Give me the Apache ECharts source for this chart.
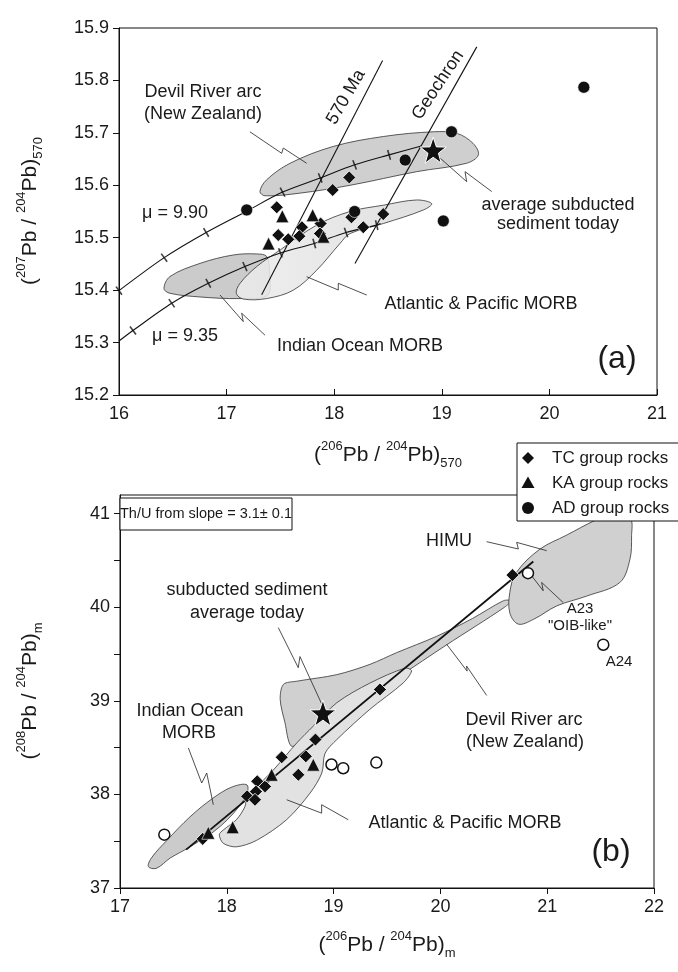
<!DOCTYPE html>
<html><head><meta charset="utf-8">
<script src="https://cdn.jsdelivr.net/npm/echarts@6/dist/echarts.min.js"></script>
<style>html,body{margin:0;padding:0;background:#fff}#c{width:678px;height:972px}</style>
</head><body><div id="c"></div>
<script>
// ---------- DATA (panel a) ----------
const xTicksA = [16, 17, 18, 19, 20, 21];
const yTicksA = [15.2, 15.3, 15.4, 15.5, 15.6, 15.7, 15.8, 15.9];
const tcA = [[17.466,15.558],[18.14,15.615],[17.986,15.591],[17.874,15.527],[18.16,15.539],[18.456,15.545],[18.27,15.52],[17.70,15.52],[17.48,15.505],[17.676,15.503],[17.573,15.497],[17.868,15.508]];
const kaA = [[17.518,15.541],[17.80,15.543],[17.39,15.489],[17.90,15.502]];
const adA = [[17.187,15.553],[18.19,15.55],[18.66,15.648],[19.09,15.702],[19.014,15.532],[20.32,15.787]];
const sedA = [[18.92,15.667]];
const curve990 = [[16.0,15.399],[16.42,15.462],[16.81,15.510],[17.19,15.551],[17.52,15.587],[17.87,15.614],[18.19,15.639],[18.51,15.658],[18.81,15.675]];
const curve935 = [[16.0,15.303],[16.13,15.323],[16.49,15.375],[16.83,15.413],[17.17,15.445],[17.50,15.471],[17.815,15.489],[18.11,15.51],[18.395,15.524],[18.43,15.527]];
const ticks990 = [[16.0,15.399],[16.42,15.462],[16.81,15.510],[17.52,15.587],[17.87,15.614],[18.19,15.639],[18.51,15.658]];
const ticks935 = [[16.13,15.323],[16.49,15.375],[16.83,15.413],[17.17,15.445],[17.50,15.471],[17.815,15.489],[18.11,15.51],[18.395,15.524]];
const line570 = [[17.326,15.391],[18.45,15.838]];
const geochron = [[18.193,15.451],[19.325,15.864]];
const devilA = [[17.31,15.588],[17.37,15.610],[17.59,15.642],[17.99,15.674],[18.456,15.693],[18.92,15.702],[19.14,15.699],[19.29,15.68],[19.34,15.658],[19.23,15.642],[18.767,15.626],[18.147,15.600],[17.68,15.585],[17.357,15.580]];
const indianA = [[16.418,15.403],[16.474,15.426],[16.753,15.451],[17.06,15.467],[17.28,15.469],[17.373,15.464],[17.40,15.43],[17.38,15.39],[17.125,15.384],[16.753,15.387],[16.474,15.394]];
const atlanticA = [[17.09,15.394],[17.125,15.413],[17.28,15.445],[17.50,15.477],[17.837,15.524],[18.147,15.55],[18.456,15.562],[18.767,15.572],[18.906,15.565],[18.83,15.553],[18.456,15.527],[18.147,15.508],[18.054,15.489],[17.837,15.438],[17.62,15.40],[17.373,15.384],[17.155,15.383]];
const pointersA = [
  [[17.217,15.702],[17.512,15.661],[17.527,15.671],[17.744,15.642]],
  [[18.967,15.655],[19.231,15.607],[19.216,15.626],[19.464,15.588]],
  [[17.744,15.4256],[18.038,15.4003],[18.038,15.413],[18.302,15.3907]],
  [[16.939,15.3907],[17.155,15.34],[17.14,15.356],[17.357,15.314]]
];
// ---------- DATA (panel b) ----------
const xTicksB = [17, 18, 19, 20, 21, 22];
const yTicksB = [37, 38, 39, 40, 41];
const yMinorB = [37, 37.5, 38, 38.5, 39, 39.5, 40, 40.5, 41];
const tcB = [[19.434,39.122],[18.83,38.586],[18.514,38.397],[18.74,38.407],[18.67,38.21],[18.285,38.14],[18.358,38.086],[18.273,38.03],[18.19,37.98],[18.264,37.943],[17.774,37.525],[20.675,40.344]];
const kaB = [[18.81,38.318],[18.42,38.21],[18.055,37.65],[17.827,37.59]];
const adB = [[17.415,37.57],[18.98,38.32],[19.09,38.28],[19.40,38.34],[20.82,40.365],[21.525,39.60]];
const sedB = [[18.90,38.87]];
const regression = [[17.62,37.41],[20.87,40.49]];
const indianB = [[17.265,37.23],[17.30,37.33],[17.44,37.51],[17.655,37.76],[17.87,37.96],[18.05,38.08],[18.19,38.10],[18.17,37.96],[17.94,37.66],[17.655,37.44],[17.47,37.32],[17.34,37.21]];
const atlanticB = [[17.93,37.57],[17.967,37.478],[18.09,37.44],[18.28,37.51],[18.56,37.73],[18.78,38.015],[18.89,38.23],[18.92,38.44],[19.03,38.586],[19.34,38.91],[19.65,39.19],[19.73,39.32],[19.67,39.35],[19.34,39.19],[19.03,38.98],[18.81,38.73],[18.655,38.55],[18.435,38.26],[18.25,38.05],[18.19,37.98],[18.17,37.87],[18.09,37.73],[17.967,37.62]];
const devilB = [[18.53,39.176],[18.655,39.21],[19.03,39.28],[19.34,39.39],[19.59,39.515],[19.965,39.69],[20.3,39.88],[20.59,40.07],[20.66,40.07],[20.6,40.0],[20.06,39.6],[19.6,39.25],[19.2,38.95],[18.9,38.7],[18.7,38.55],[18.6,38.52],[18.545,38.765],[18.50,39.015]];
const himuB = [[20.65,40.16],[20.71,40.37],[20.93,40.62],[21.18,40.77],[21.45,40.93],[21.65,41.02],[21.78,40.95],[21.79,40.765],[21.775,40.515],[21.68,40.265],[21.37,40.12],[21.09,40.015],[20.87,39.87],[20.73,39.82],[20.65,39.94]];
const pointersB = [
  [[20.433,40.701],[20.73,40.623],[20.714,40.694],[20.995,40.605]],
  [[20.854,40.337],[20.963,40.176],[20.948,40.266],[21.15,40.05]],
  [[18.482,39.783],[18.669,39.355],[18.685,39.473],[18.898,38.943]],
  [[17.64,38.497],[17.765,38.122],[17.812,38.229],[17.874,37.89]],
  [[18.561,37.943],[18.888,37.80],[18.888,37.89],[19.138,37.729]],
  [[20.059,39.604],[20.25,39.318],[20.245,39.372],[20.433,39.058]]
];

// ---------- LAYOUT ----------
const FONT = '"Liberation Sans", Arial, Helvetica, sans-serif';
const TXT = '#1a1a1a';
const gridA = {left:119, top:28, width:538, height:367};
const gridB = {left:120, top:495, width:534, height:393};
const extA = {x:[16,21], y:[15.2,15.9]};
const extB = {x:[17,22], y:[37,41.2]};

function starPath(){
  let s='path://';
  for(let i=0;i<10;i++){const r=i%2?20:50;const a=-Math.PI/2+i*Math.PI/5;
    s+=(i?'L':'M')+(50+r*Math.cos(a)).toFixed(2)+' '+(50+r*Math.sin(a)).toFixed(2)+' ';}
  return s+'Z';
}
const STAR = starPath();

function poly(idx, pts, fill, smooth){
  return {type:'custom', xAxisIndex:idx, yAxisIndex:idx, data:pts, silent:true, z:1,
    encode:{x:0,y:1},
    renderItem:function(params, api){
      if(params.dataIndex!==0) return null;
      const p = pts.map(d=>api.coord(d));
      return {type:'polygon', shape:{points:p, smooth:smooth}, style:{fill:fill, stroke:'#333', lineWidth:0.8}};
    }};
}
function line(idx, pts, w, smooth){
  return {type:'line', xAxisIndex:idx, yAxisIndex:idx, data:pts, symbol:'none', smooth:smooth||false,
    silent:true, z:2, lineStyle:{color:'#111', width:w}};
}
function slopeAt(curve, x){
  for(let i=0;i<curve.length-1;i++){
    if(x>=curve[i][0]-1e-9 && x<=curve[i+1][0]+1e-9){
      return (curve[i+1][1]-curve[i][1])/(curve[i+1][0]-curve[i][0]);
    }
  }
  const n=curve.length; return (curve[n-1][1]-curve[n-2][1])/(curve[n-1][0]-curve[n-2][0]);
}
function tickSeries(idx, ticks, curve, grid, ext){
  const kx = grid.width/(ext.x[1]-ext.x[0]), ky = grid.height/(ext.y[1]-ext.y[0]);
  return {type:'scatter', xAxisIndex:idx, yAxisIndex:idx, silent:true, z:2,
    symbol:'rect', symbolSize:[1.6,10], itemStyle:{color:'#111'},
    data: ticks.map(t=>({value:t, symbolRotate: Math.atan(slopeAt(curve,t[0])*ky/kx)*180/Math.PI}))};
}
function pts(idx, data, symbol, size, color, border, bw, name){
  return {type:'scatter', name:name, xAxisIndex:idx, yAxisIndex:idx, data:data, symbol:symbol, symbolSize:size, z:4,
    itemStyle:{color:color, borderColor:border, borderWidth:bw, opacity:1}};
}
function axisX(idx, ext, inside){
  return {type:'value', gridIndex:idx, min:ext.x[0], max:ext.x[1], interval:1,
    axisLine:{show:true, onZero:false, lineStyle:{color:'#111', width:1}},
    axisTick:{show:true, inside:inside, length:6, lineStyle:{color:'#111'}},
    axisLabel:{color:TXT, fontSize:18, fontFamily:FONT, margin:10},
    splitLine:{show:false}};
}
const ptrStyle = {color:'#222', width:0.8};

const series = [
  poly(0, indianA, '#cbcbcb', 0.35),
  poly(0, atlanticA, {type:'linear', x:0, y:0, x2:1, y2:0, colorStops:[{offset:0,color:'rgba(236,236,236,0.85)'},{offset:1,color:'rgba(222,222,222,0.95)'}]}, 0.35),
  poly(0, devilA, '#cfcfcf', 0.35),
  line(0, curve990, 1.1, 0.3),
  line(0, curve935, 1.1, 0.3),
  line(0, line570, 1.1),
  line(0, geochron, 1.1),
  tickSeries(0, ticks990, curve990, gridA, extA),
  tickSeries(0, ticks935, curve935, gridA, extA),
  ...pointersA.map(p=>({type:'line', xAxisIndex:0, yAxisIndex:0, data:p, symbol:'none', silent:true, z:2, lineStyle:ptrStyle})),
  pts(0, tcA, 'diamond', 13, '#111', '#fff', 0.8, 'TC group rocks'),
  pts(0, kaA, 'triangle', 13, '#111', '#fff', 0.6, 'KA group rocks'),
  pts(0, adA, 'circle', 12, '#111', '#fff', 0.6, 'AD group rocks'),
  pts(0, sedA, STAR, 26, '#111', '#fff', 1, 'sediment'),

  poly(1, indianB, '#cbcbcb', 0.35),
  poly(1, devilB, '#d0d0d0', 0.3),
  poly(1, atlanticB, '#e2e2e2', 0.3),
  poly(1, himuB, '#d0d0d0', 0.35),
  line(1, regression, 1.8),
  ...pointersB.map(p=>({type:'line', xAxisIndex:1, yAxisIndex:1, data:p, symbol:'none', silent:true, z:2, lineStyle:ptrStyle})),
  pts(1, tcB, 'diamond', 13, '#111', '#fff', 0.8, 'TC group rocks'),
  pts(1, kaB, 'triangle', 13, '#111', '#fff', 0.6, 'KA group rocks'),
  pts(1, adB, 'circle', 11, '#fff', '#111', 1.5, 'AD group rocks'),
  pts(1, sedB, STAR, 26, '#111', '#fff', 1, 'sediment')
];

function t(text, x, y, opt){
  opt = opt||{};
  return {type:'text', x:x, y:y, rotation:opt.rot||0, z:opt.z||20, silent:true,
    style:{text:text, fill:TXT, fontSize:opt.size||18, fontFamily:FONT,
      align:opt.align||'center', verticalAlign:'middle', textAlign:opt.align||'center', textVerticalAlign:'middle'}};
}
function richTitle(a, b, sub, x, y, rot){
  return {type:'text', x:x, y:y, rotation:rot||0, z:20, silent:true,
    style:{text:'{p|(}{s|'+a+'}{p|Pb / }{s|204}{p|Pb)}{b|'+sub+'}', fill:TXT, fontFamily:FONT,
      align:'center', verticalAlign:'middle', textAlign:'center', textVerticalAlign:'middle',
      rich:{p:{fontSize:21, fontFamily:FONT, fill:TXT, lineHeight:30, verticalAlign:'middle'},
            s:{fontSize:13, fontFamily:FONT, fill:TXT, lineHeight:11, verticalAlign:'top'},
            b:{fontSize:13, fontFamily:FONT, fill:TXT, lineHeight:10, verticalAlign:'bottom'}}}};
}
const graphics = [
  // panel a texts
  t('Devil River arc', 203, 92), t('(New Zealand)', 203, 114),
  t('average subducted', 558, 205), t('sediment today', 558, 224),
  t('Atlantic & Pacific MORB', 481, 304),
  t('Indian Ocean MORB', 360, 346),
  t('μ = 9.90', 175, 213), t('μ = 9.35', 185, 336),
  t('570 Ma', 346, 97, {rot:Math.PI/3}),
  t('Geochron', 438, 85, {rot:56.5*Math.PI/180}),
  t('(a)', 617, 359, {size:32}),
  richTitle('207', '204', '570', 30, 211, Math.PI/2),
  richTitle('206', '204', '570', 388, 455, 0),
  // panel b texts
  {type:'rect', shape:{x:120, y:498, width:172, height:32}, z:19, silent:true, style:{fill:'#fff', stroke:'#111', lineWidth:1}},
  t('Th/U from slope = 3.1± 0.1', 206, 514, {size:14.5}),
  t('HIMU', 449, 541), t('A23', 580, 609, {size:15}), t('"OIB-like"', 580, 626, {size:15}), t('A24', 619, 662, {size:15}),
  t('subducted sediment', 247, 590), t('average today', 247, 613),
  t('Indian Ocean', 190, 711), t('MORB', 189, 733),
  t('Atlantic & Pacific MORB', 465, 823),
  t('Devil River arc', 524, 720), t('(New Zealand)', 525, 742),
  t('(b)', 611, 852, {size:32}),
  richTitle('208', '204', 'm', 30, 691, Math.PI/2),
  richTitle('206', '204', 'm', 387, 945, 0),
  // legend
  {type:'rect', shape:{x:517, y:443, width:162, height:78}, z:30, silent:true, style:{fill:'#fff', stroke:'#111', lineWidth:1}},
  {type:'polygon', x:528, y:458, z:31, silent:true, shape:{points:[[0,-6],[6,0],[0,6],[-6,0]]}, style:{fill:'#111'}},
  {type:'polygon', x:528, y:483, z:31, silent:true, shape:{points:[[0,-6.5],[6.5,5],[-6.5,5]]}, style:{fill:'#111'}},
  {type:'circle', x:528, y:508, z:31, silent:true, shape:{cx:0, cy:0, r:6}, style:{fill:'#111'}},
  t('TC group rocks', 552, 458, {size:17, align:'left', z:31}),
  t('KA group rocks', 552, 483, {size:17, align:'left', z:31}),
  t('AD group rocks', 552, 508, {size:17, align:'left', z:31})
];

const option = {
  animation:false,
  backgroundColor:'#fff',
  grid:[
    Object.assign({show:true, borderColor:'#111', borderWidth:1, backgroundColor:'transparent'}, gridA),
    Object.assign({show:true, borderColor:'#111', borderWidth:1, backgroundColor:'transparent'}, gridB)
  ],
  xAxis:[axisX(0, extA, true), axisX(1, extB, false)],
  yAxis:[
    {type:'value', gridIndex:0, min:extA.y[0], max:extA.y[1], interval:0.1,
      axisLine:{show:true, onZero:false, lineStyle:{color:'#111'}},
      axisTick:{show:true, inside:false, length:6, lineStyle:{color:'#111'}},
      axisLabel:{color:TXT, fontSize:18, fontFamily:FONT, margin:10, formatter:v=>Number(v).toFixed(1)},
      splitLine:{show:false}},
    {type:'value', gridIndex:1, min:extB.y[0], max:extB.y[1],
      axisLine:{show:true, onZero:false, lineStyle:{color:'#111'}},
      axisTick:{show:true, inside:false, length:6, customValues:yMinorB, lineStyle:{color:'#111'}},
      axisLabel:{color:TXT, fontSize:18, fontFamily:FONT, margin:10, customValues:yTicksB},
      splitLine:{show:false}}
  ],
  series:series,
  graphic:graphics
};
const chart = echarts.init(document.getElementById('c'), null, {renderer:'canvas'});
chart.setOption(option);
</script></body></html>
